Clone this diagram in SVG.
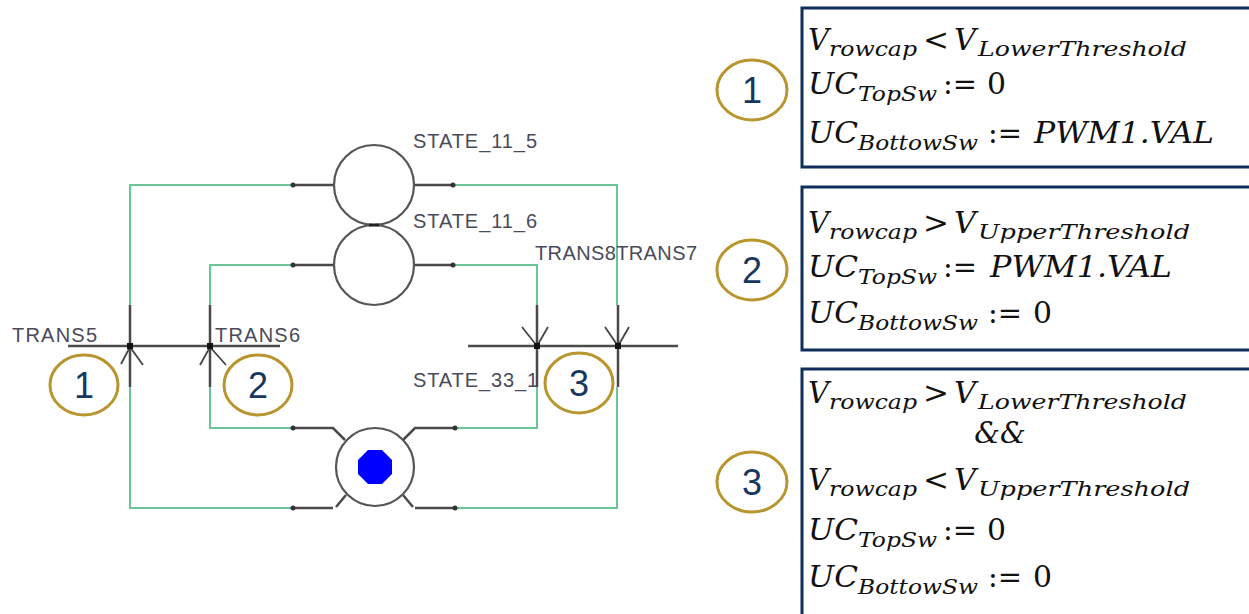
<svg xmlns="http://www.w3.org/2000/svg" width="1249" height="614" viewBox="0 0 1249 614">
<style>
.g{fill:none;stroke:#6cc596;stroke-width:2}
.k{fill:none;stroke:#4a4a4a;stroke-width:2.5}
.ch{fill:none;stroke:#444;stroke-width:1.8}
.st{fill:#fff;stroke:#555;stroke-width:2.2}
.dot{fill:#333}
.lbl{font-family:"Liberation Sans",Arial,sans-serif;font-size:20px;fill:#4a4a5a}
.num{font-family:"Liberation Sans",Arial,sans-serif;font-size:36px;fill:#17375e;text-anchor:middle}
.ring{fill:#fff;stroke:#b8952f;stroke-width:3}
.box{fill:#fff;stroke:#0f2e5c;stroke-width:3}
.m{font-family:"DejaVu Serif","Liberation Serif",serif;font-style:italic;font-size:29px;fill:#111}
.s{font-size:21px}
.o{font-style:normal}
</style>
<g id="connectors">
<path class="g" d="M293,185 H130 V305 M130,387 V508 H293"/>
<path class="g" d="M453,185 H617 V305 M617,387 V508 H455"/>
<path class="g" d="M293,265 H210 V305 M210,387 V428 H293"/>
<path class="g" d="M453,265 H537 V305 M537,387 V428 H455"/>
</g>
<g id="STATE_11_5">
<path class="k" d="M293,185 H334 M414,185 H453"/>
<circle class="st" cx="374" cy="185" r="40"/>
<circle class="dot" cx="293" cy="185" r="2.5"/><circle class="dot" cx="453" cy="185" r="2.5"/>
<text class="lbl" x="413" y="148" textLength="124">STATE_11_5</text>
</g>
<g id="STATE_11_6">
<path class="k" d="M293,265 H334 M414,265 H453"/>
<circle class="st" cx="374" cy="265" r="40"/>
<path d="M369,225 H379" stroke="#222" stroke-width="3"/>
<circle class="dot" cx="293" cy="265" r="2.5"/><circle class="dot" cx="453" cy="265" r="2.5"/>
<text class="lbl" x="413" y="228" textLength="124">STATE_11_6</text>
</g>
<g id="STATE_33_1">
<path class="k" d="M293,428 H333 L345,440 M455,428 H415 L403,440 M293,508 H333 M336,507 L346,495 M455,508 H415 M413,507 L403,495"/>
<circle class="st" cx="375" cy="467" r="39"/>
<polygon fill="#0000ff" points="368,450 382,450 392,460 392,474 382,484 368,484 358,474 358,460"/>
<circle class="dot" cx="293" cy="428" r="2.5"/><circle class="dot" cx="455" cy="428" r="2.5"/>
<circle class="dot" cx="293" cy="508" r="2.5"/><circle class="dot" cx="455" cy="508" r="2.5"/>
<text class="lbl" x="413" y="387" textLength="125">STATE_33_1</text>
</g>
<g id="TRANS5">
<path class="k" d="M68,346 H210 M130,305 V387"/>
<path class="ch" d="M121,364 L130,347 L143,365"/>
<rect x="127" y="343" width="6" height="6" fill="#111"/>
<text class="lbl" x="12" y="342" textLength="85">TRANS5</text>
</g>
<g id="TRANS6">
<path class="k" d="M210,346 H280 M210,305 V387"/>
<path class="ch" d="M200,365 L210,347 L226,365"/>
<rect x="207" y="343" width="6" height="6" fill="#111"/>
<text class="lbl" x="215" y="342" textLength="85">TRANS6</text>
</g>
<g id="TRANS8">
<path class="k" d="M468,346 H618 M537,305 V387"/>
<path class="ch" d="M522,327 L537,346 L548,327"/>
<rect x="534" y="343" width="6" height="6" fill="#111"/>
</g>
<g id="TRANS7">
<path class="k" d="M618,346 H678 M618,305 V387"/>
<path class="ch" d="M605,327 L618,346 L629,327"/>
<rect x="615" y="343" width="6" height="6" fill="#111"/>
<text class="lbl" x="535" y="260" textLength="162">TRANS8TRANS7</text>
</g>
<g id="marker1"><ellipse class="ring" cx="84" cy="385" rx="34" ry="30"/><text class="num" x="84" y="398">1</text></g>
<g id="marker2"><ellipse class="ring" cx="258" cy="385" rx="34" ry="30"/><text class="num" x="258" y="398">2</text></g>
<g id="marker3"><ellipse class="ring" cx="579" cy="383" rx="34" ry="30"/><text class="num" x="579" y="396">3</text></g>

<g id="cond1">
<rect class="box" x="802" y="8" width="480" height="159"/>
<ellipse class="ring" cx="752" cy="90" rx="35" ry="30"/><text class="num" x="752" y="103">1</text>
<text class="m" y="50"><tspan x="808" textLength="21" lengthAdjust="spacingAndGlyphs">V</tspan><tspan class="s" x="829" y="56" textLength="88" lengthAdjust="spacingAndGlyphs">rowcap</tspan><tspan class="o" x="923" y="50" textLength="26" lengthAdjust="spacingAndGlyphs">&lt;</tspan><tspan x="954" textLength="22" lengthAdjust="spacingAndGlyphs">V</tspan><tspan class="s" x="978" y="56" textLength="209" lengthAdjust="spacingAndGlyphs">LowerThreshold</tspan></text>
<text class="m" y="94"><tspan x="808" textLength="50" lengthAdjust="spacingAndGlyphs">UC</tspan><tspan class="s" x="858" y="101" textLength="79" lengthAdjust="spacingAndGlyphs">TopSw</tspan><tspan class="o" x="943" y="94" textLength="34" lengthAdjust="spacingAndGlyphs">:=</tspan><tspan class="o" x="987" textLength="19" lengthAdjust="spacingAndGlyphs">0</tspan></text>
<text class="m" y="143"><tspan x="808" textLength="50" lengthAdjust="spacingAndGlyphs">UC</tspan><tspan class="s" x="858" y="150" textLength="120" lengthAdjust="spacingAndGlyphs">BottowSw</tspan><tspan class="o" x="988" y="143" textLength="34" lengthAdjust="spacingAndGlyphs">:=</tspan><tspan x="1034" textLength="180" lengthAdjust="spacingAndGlyphs">PWM1.VAL</tspan></text>
</g>
<g id="cond2">
<rect class="box" x="802" y="187" width="480" height="163"/>
<ellipse class="ring" cx="752" cy="270" rx="35" ry="30"/><text class="num" x="752" y="283">2</text>
<text class="m" y="233"><tspan x="808" textLength="21" lengthAdjust="spacingAndGlyphs">V</tspan><tspan class="s" x="829" y="239" textLength="88" lengthAdjust="spacingAndGlyphs">rowcap</tspan><tspan class="o" x="923" y="233" textLength="26" lengthAdjust="spacingAndGlyphs">&gt;</tspan><tspan x="954" textLength="22" lengthAdjust="spacingAndGlyphs">V</tspan><tspan class="s" x="978" y="239" textLength="212" lengthAdjust="spacingAndGlyphs">UpperThreshold</tspan></text>
<text class="m" y="277"><tspan x="808" textLength="50" lengthAdjust="spacingAndGlyphs">UC</tspan><tspan class="s" x="858" y="284" textLength="79" lengthAdjust="spacingAndGlyphs">TopSw</tspan><tspan class="o" x="943" y="277" textLength="34" lengthAdjust="spacingAndGlyphs">:=</tspan><tspan x="990" textLength="182" lengthAdjust="spacingAndGlyphs">PWM1.VAL</tspan></text>
<text class="m" y="323"><tspan x="808" textLength="50" lengthAdjust="spacingAndGlyphs">UC</tspan><tspan class="s" x="858" y="330" textLength="120" lengthAdjust="spacingAndGlyphs">BottowSw</tspan><tspan class="o" x="988" y="323" textLength="34" lengthAdjust="spacingAndGlyphs">:=</tspan><tspan class="o" x="1033" textLength="19" lengthAdjust="spacingAndGlyphs">0</tspan></text>
</g>
<g id="cond3">
<rect class="box" x="802" y="369" width="480" height="300"/>
<ellipse class="ring" cx="752" cy="482" rx="35" ry="30"/><text class="num" x="752" y="495">3</text>
<text class="m" y="403"><tspan x="808" textLength="21" lengthAdjust="spacingAndGlyphs">V</tspan><tspan class="s" x="829" y="409" textLength="88" lengthAdjust="spacingAndGlyphs">rowcap</tspan><tspan class="o" x="923" y="403" textLength="26" lengthAdjust="spacingAndGlyphs">&gt;</tspan><tspan x="954" textLength="22" lengthAdjust="spacingAndGlyphs">V</tspan><tspan class="s" x="978" y="409" textLength="209" lengthAdjust="spacingAndGlyphs">LowerThreshold</tspan></text>
<text class="m" x="1000" y="443" text-anchor="middle">&amp;&amp;</text>
<text class="m" y="490"><tspan x="808" textLength="21" lengthAdjust="spacingAndGlyphs">V</tspan><tspan class="s" x="829" y="496" textLength="88" lengthAdjust="spacingAndGlyphs">rowcap</tspan><tspan class="o" x="923" y="490" textLength="26" lengthAdjust="spacingAndGlyphs">&lt;</tspan><tspan x="954" textLength="22" lengthAdjust="spacingAndGlyphs">V</tspan><tspan class="s" x="978" y="496" textLength="212" lengthAdjust="spacingAndGlyphs">UpperThreshold</tspan></text>
<text class="m" y="540"><tspan x="808" textLength="50" lengthAdjust="spacingAndGlyphs">UC</tspan><tspan class="s" x="858" y="547" textLength="79" lengthAdjust="spacingAndGlyphs">TopSw</tspan><tspan class="o" x="943" y="540" textLength="34" lengthAdjust="spacingAndGlyphs">:=</tspan><tspan class="o" x="987" textLength="19" lengthAdjust="spacingAndGlyphs">0</tspan></text>
<text class="m" y="587"><tspan x="808" textLength="50" lengthAdjust="spacingAndGlyphs">UC</tspan><tspan class="s" x="858" y="594" textLength="120" lengthAdjust="spacingAndGlyphs">BottowSw</tspan><tspan class="o" x="988" y="587" textLength="34" lengthAdjust="spacingAndGlyphs">:=</tspan><tspan class="o" x="1033" textLength="19" lengthAdjust="spacingAndGlyphs">0</tspan></text>
</g>
</svg>
